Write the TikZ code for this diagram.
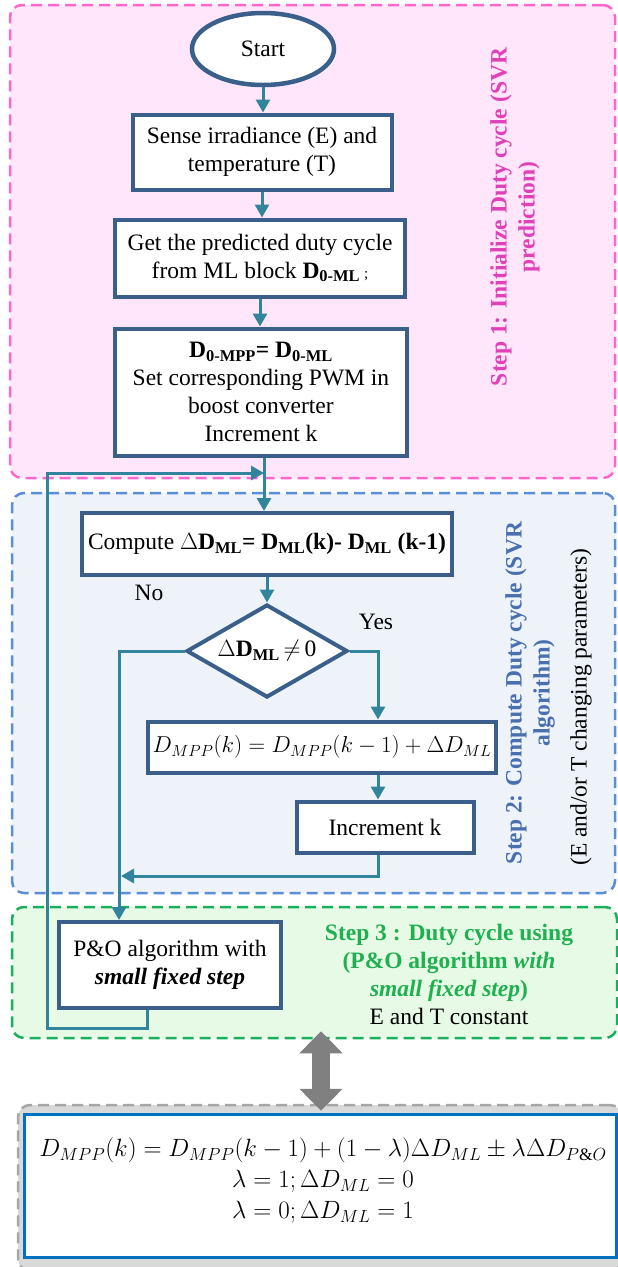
\documentclass[tikz,border=0pt]{standalone}
\usepackage{fix-cm}
\usepackage{amsmath}
\usepackage{fontspec}
\setmainfont{Liberation Serif}
\usetikzlibrary{shapes.geometric,arrows.meta}
\definecolor{boxc}{HTML}{3A5F8B}
\definecolor{connc}{HTML}{31849B}
\definecolor{pinkb}{HTML}{FF66CC}
\definecolor{pinkf}{HTML}{FFE6FA}
\definecolor{pinkt}{HTML}{E040B8}
\definecolor{blueb}{HTML}{5B8ED6}
\definecolor{bluef}{HTML}{EEF3FA}
\definecolor{bluet}{HTML}{4A6FAE}
\definecolor{greenb}{HTML}{1AAF5D}
\definecolor{greenf}{HTML}{E6FAE6}
\definecolor{greent}{HTML}{1FB04F}
\definecolor{grayb}{HTML}{A6A6A6}
\definecolor{grayf}{HTML}{D9D9D9}
\definecolor{graya}{HTML}{808080}
\definecolor{formb}{HTML}{0070C0}
\newcommand\fs{\fontsize{23.5}{28}\selectfont}
\newcommand\fsmath{\fontsize{23}{31}\selectfont}
\newcommand\fsform{\fontsize{25}{31}\selectfont}
\tikzset{
  region/.style={rounded corners=12pt, line width=2.5pt, dash pattern=on 11pt off 6pt, inner sep=0pt},
  fbox/.style={draw=boxc, line width=4pt, fill=white, align=center, inner sep=2pt, font=\fs},
  conn/.style={draw=connc, line width=3pt, -{Triangle[length=13pt,width=14pt]}},
  lbl/.style={font=\fs, inner sep=0pt},
}
\begin{document}
\begin{tikzpicture}[x=1pt,y=-1pt]
\useasboundingbox (0,0) rectangle (618,1267);
% regions
\node[region, draw=pinkb, fill=pinkf, minimum width=605pt, minimum height=473pt] (r1) at (312.5,241.5) {};
\node[region, draw=blueb, fill=bluef, minimum width=603pt, minimum height=400pt] (r2) at (313.5,693) {};
\node[region, draw=greenb, fill=greenf, minimum width=605pt, minimum height=131pt] (r3) at (314.5,972.5) {};
\node[region, draw=grayb, fill=grayf, minimum width=604pt, minimum height=166pt] (r4) at (320,1188) {};
\node[draw=formb, line width=3pt, fill=white, minimum width=592pt, minimum height=143pt, inner sep=0pt] (fb) at (320,1185.5) {};
% flow nodes
\node[ellipse, draw=boxc, line width=4.5pt, fill=white, minimum width=142pt, minimum height=72pt, inner sep=0pt, font=\fs] (start) at (263,49) {Start};
\node[fbox, minimum width=259pt, minimum height=75pt] (b1) at (262,152) {Sense irradiance (E) and\\temperature (T)};
\node[fbox, minimum width=290pt, minimum height=77pt] (b2) at (260,258) {Get the predicted duty cycle\\from ML block \textbf{D\textsubscript{0-ML}}\,{\fontsize{15}{15}\selectfont ;}};
\node[fbox, minimum width=292pt, minimum height=127pt] (b3) at (261,392) {\textbf{D\textsubscript{0-MPP}= D\textsubscript{0-ML}}\\Set corresponding PWM in\\boost converter\\Increment k};
\node[fbox, minimum width=370pt, minimum height=62pt] (comp) at (267,544) {Compute $\Delta$\textbf{D\textsubscript{ML}= D\textsubscript{ML}(k)- D\textsubscript{ML} (k-1)}};
\node[diamond, aspect=1.73, draw=boxc, line width=4pt, fill=white, minimum width=161pt, minimum height=93pt, inner sep=0pt, font=\fs] (dia) at (267,651) {$\Delta$\textbf{D\textsubscript{ML}}\,$\neq$\,0};
\node[fbox, minimum width=348pt, minimum height=51pt, font=\fsmath] (dmpp) at (322,747) {$D_{MPP}(k)=D_{MPP}(k-1)+\Delta D_{ML}$};
\node[fbox, minimum width=177pt, minimum height=51pt] (inc) at (385,827) {Increment k};
\node[fbox, minimum width=222pt, minimum height=86pt] (po) at (170,965) {P\&O algorithm with\\\textbf{\textit{small fixed step}}};
% labels
\node[lbl] (no) at (149,593) {No};
\node[lbl] (yes) at (376,622) {Yes};
\node[lbl, rotate=90, align=center, font=\fs\bfseries, text=pinkt] (s1) at (515,217) {Step 1: Initialize Duty cycle (SVR\\prediction)};
\node[lbl, rotate=90, align=center, font=\fs\bfseries, text=bluet] (s2) at (530,693) {Step 2: Compute Duty cycle (SVR\\algorithm)};
\node[lbl, rotate=90, font=\fs] (s2b) at (581,707) {(E and/or T changing parameters)};
\node[lbl, align=center, font=\fs\bfseries, text=greent] (s3) at (449,974) {Step 3 : Duty cycle using\\(P\&O algorithm \textit{with}\\\textit{small fixed step})\\{\mdseries\color{black}E and T constant}};
\node[font=\fsform, align=center, inner sep=0pt] (form) at (323,1181) {$D_{MPP}(k)=D_{MPP}(k-1)+(1-\lambda)\Delta D_{ML}\pm\lambda\Delta D_{P\&O}$\\$\lambda=1;\Delta D_{ML}=0$\\$\lambda=0;\Delta D_{ML}=1$};
% connectors
\draw[conn] (start.south) -- (start.south |- b1.north);
\draw[conn] (b1.south) -- (b1.south |- b2.north);
\draw[conn] (b2.south) -- (b2.south |- b3.north);
\draw[conn] ([xshift=3pt]b3.south) -- ([xshift=3pt]b3.south |- comp.north);
\draw[conn] (comp.south) -- (dia.north);
\draw[conn] (dia.east) -| ([xshift=56pt]dmpp.north);
\draw[conn] (dia.west) -| ([xshift=-51pt]po.north);
\draw[conn] ([xshift=56pt]dmpp.south) -- ([xshift=56pt]dmpp.south |- inc.north);
\coordinate (mg) at (121,876);
\draw[conn] ([xshift=-7pt]inc.south) |- (mg);
\coordinate (fl) at (47,1028);
\coordinate (ft) at (264,473);
\draw[conn] ([xshift=-23pt]po.south) |- (fl) |- (ft);
\draw[line width=18pt, draw=graya, {Triangle[length=22pt,width=42pt]}-{Triangle[length=22pt,width=42pt]}] ([xshift=6.5pt,yshift=8pt]r3.south) -- ([xshift=1pt,yshift=-7pt]r4.north);
\end{tikzpicture}
\end{document}
